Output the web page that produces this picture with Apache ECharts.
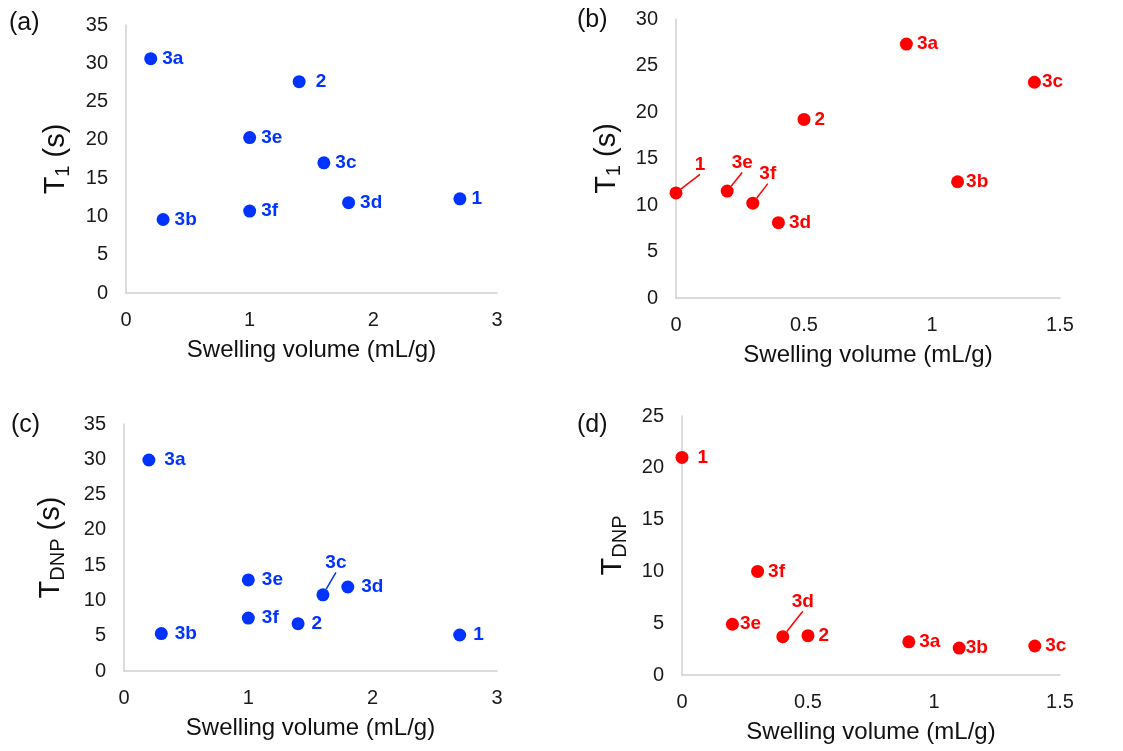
<!DOCTYPE html>
<html>
<head>
<meta charset="utf-8">
<script src="https://cdn.jsdelivr.net/npm/echarts@6/dist/echarts.min.js"></script>
<style>
  html, body { margin: 0; padding: 0; background: #fff; }
  #chart { width: 1123px; height: 751px; }
</style>
</head>
<body>
<div id="chart"></div>
<script>
// sample names, same order in every array
var names = ['1', '2', '3a', '3b', '3c', '3d', '3e', '3f'];
// swelling volume (mL/g)
var swellBlue = [2.7, 1.4, 0.2, 0.3, 1.6, 1.8, 1.0, 1.0];
var swellRed = [0, 0.5, 0.9, 1.1, 1.4, 0.4, 0.2, 0.3];
// relaxation / build-up times (s)
var t1Blue = [12.3, 27.6, 30.6, 9.6, 17.0, 11.8, 20.3, 10.7];
var t1Red = [11.3, 19.2, 27.3, 12.5, 23.2, 8.1, 11.5, 10.2];
var tdnpBlue = [5.1, 6.7, 29.9, 5.3, 10.8, 11.9, 12.9, 7.5];
var tdnpRed = [21.0, 3.8, 3.2, 2.6, 2.8, 3.7, 4.9, 10.0];

var BLUE = '#0033ff';
var RED = '#ff0000';
var FONT = '"Liberation Sans", Arial, sans-serif';

// labels that sit away from their point with a leader line
var leaders = {
  'b:1': [24, -28],
  'b:3e': [15, -28],
  'b:3f': [15, -29],
  'c:3c': [13, -32],
  'd:3d': [20, -35]
};
// gap between point and label where it differs from the panel default
var gaps = {
  'a:2': 10, 'b:3c': 1, 'b:3b': 2, 'd:3e': 1, 'd:3b': 0, 'd:1': 9, 'c:3a': 9
};
var defGap = { a: 5, b: 4, c: 7, d: 4 };

function points(panel, xs, ys, color) {
  return names.map(function (n, i) {
    var key = panel + ':' + n;
    var item = { name: n, value: [xs[i], ys[i]] };
    if (leaders[key]) {
      item.label = { position: 'inside' };
      item.labelLine = { show: true, lineStyle: { color: color, width: 1.5 } };
    } else {
      item.label = { distance: gaps[key] != null ? gaps[key] : defGap[panel] };
    }
    return item;
  });
}

function makeSeries(idx, panel, xs, ys, color) {
  return {
    type: 'scatter',
    xAxisIndex: idx,
    yAxisIndex: idx,
    symbolSize: 13,
    itemStyle: { color: color, opacity: 1 },
    label: {
      show: true,
      position: 'right',
      formatter: '{b}',
      color: color,
      fontWeight: 'bold',
      fontSize: 19,
      fontFamily: FONT
    },
    labelLayout: function (p) {
      var off = leaders[panel + ':' + names[p.dataIndex]];
      if (off) return { dx: off[0], dy: off[1] };
      return {};
    },
    data: points(panel, xs, ys, color)
  };
}

var axisLineStyle = { show: true, lineStyle: { color: '#d0d0d0', width: 1.5 } };

function xAxis(idx, max, interval) {
  return {
    type: 'value', gridIndex: idx, min: 0, max: max, interval: interval,
    axisLine: axisLineStyle, axisTick: { show: false }, splitLine: { show: false },
    axisLabel: { color: '#1a1a1a', fontSize: 20, fontFamily: FONT, margin: 17 },
    name: 'Swelling volume (mL/g)', nameLocation: 'middle', nameGap: 45,
    nameTextStyle: { color: '#111', fontSize: 24, fontFamily: FONT }
  };
}

function yAxis(idx, max, title, gap) {
  return {
    type: 'value', gridIndex: idx, min: 0, max: max, interval: 5,
    axisLine: axisLineStyle, axisTick: { show: false }, splitLine: { show: false },
    axisLabel: { color: '#1a1a1a', fontSize: 20, fontFamily: FONT, margin: 18 },
    name: title, nameLocation: 'middle', nameGap: gap,
    nameTextStyle: {
      rich: {
        t: { fontSize: 29, color: '#111', fontFamily: FONT },
        s: { fontSize: 20, color: '#111', fontFamily: FONT, padding: [15, 0, 0, 0] }
      }
    }
  };
}

var chart = echarts.init(document.getElementById('chart'));

var option = {
  backgroundColor: '#fff',
  animation: false,
  title: [
    { text: '(a)', left: 9, top: 11 },
    { text: '(b)', left: 577, top: 8 },
    { text: '(c)', left: 11, top: 413 },
    { text: '(d)', left: 577, top: 413 }
  ].map(function (t) {
    t.padding = 0;
    t.textStyle = { fontSize: 25, fontWeight: 'normal', color: '#111', fontFamily: FONT };
    return t;
  }),
  grid: [
    { left: 126, top: 25, width: 371, height: 268 },
    { left: 676, top: 19, width: 384, height: 279 },
    { left: 124, top: 424, width: 373, height: 247 },
    { left: 682, top: 416, width: 378, height: 259 }
  ],
  xAxis: [xAxis(0, 3, 1), xAxis(1, 1.5, 0.5), xAxis(2, 3, 1), xAxis(3, 1.5, 0.5)],
  yAxis: [
    yAxis(0, 35, '{t|T}{s|1}{t| (s)}', 53),
    yAxis(1, 30, '{t|T}{s|1}{t| (s)}', 52),
    yAxis(2, 35, '{t|T}{s|DNP}{t| (s)}', 56),
    yAxis(3, 25, '{t|T}{s|DNP}', 52)
  ],
  series: [
    makeSeries(0, 'a', swellBlue, t1Blue, BLUE),
    makeSeries(1, 'b', swellRed, t1Red, RED),
    makeSeries(2, 'c', swellBlue, tdnpBlue, BLUE),
    makeSeries(3, 'd', swellRed, tdnpRed, RED)
  ]
};

chart.setOption(option);
</script>
</body>
</html>
